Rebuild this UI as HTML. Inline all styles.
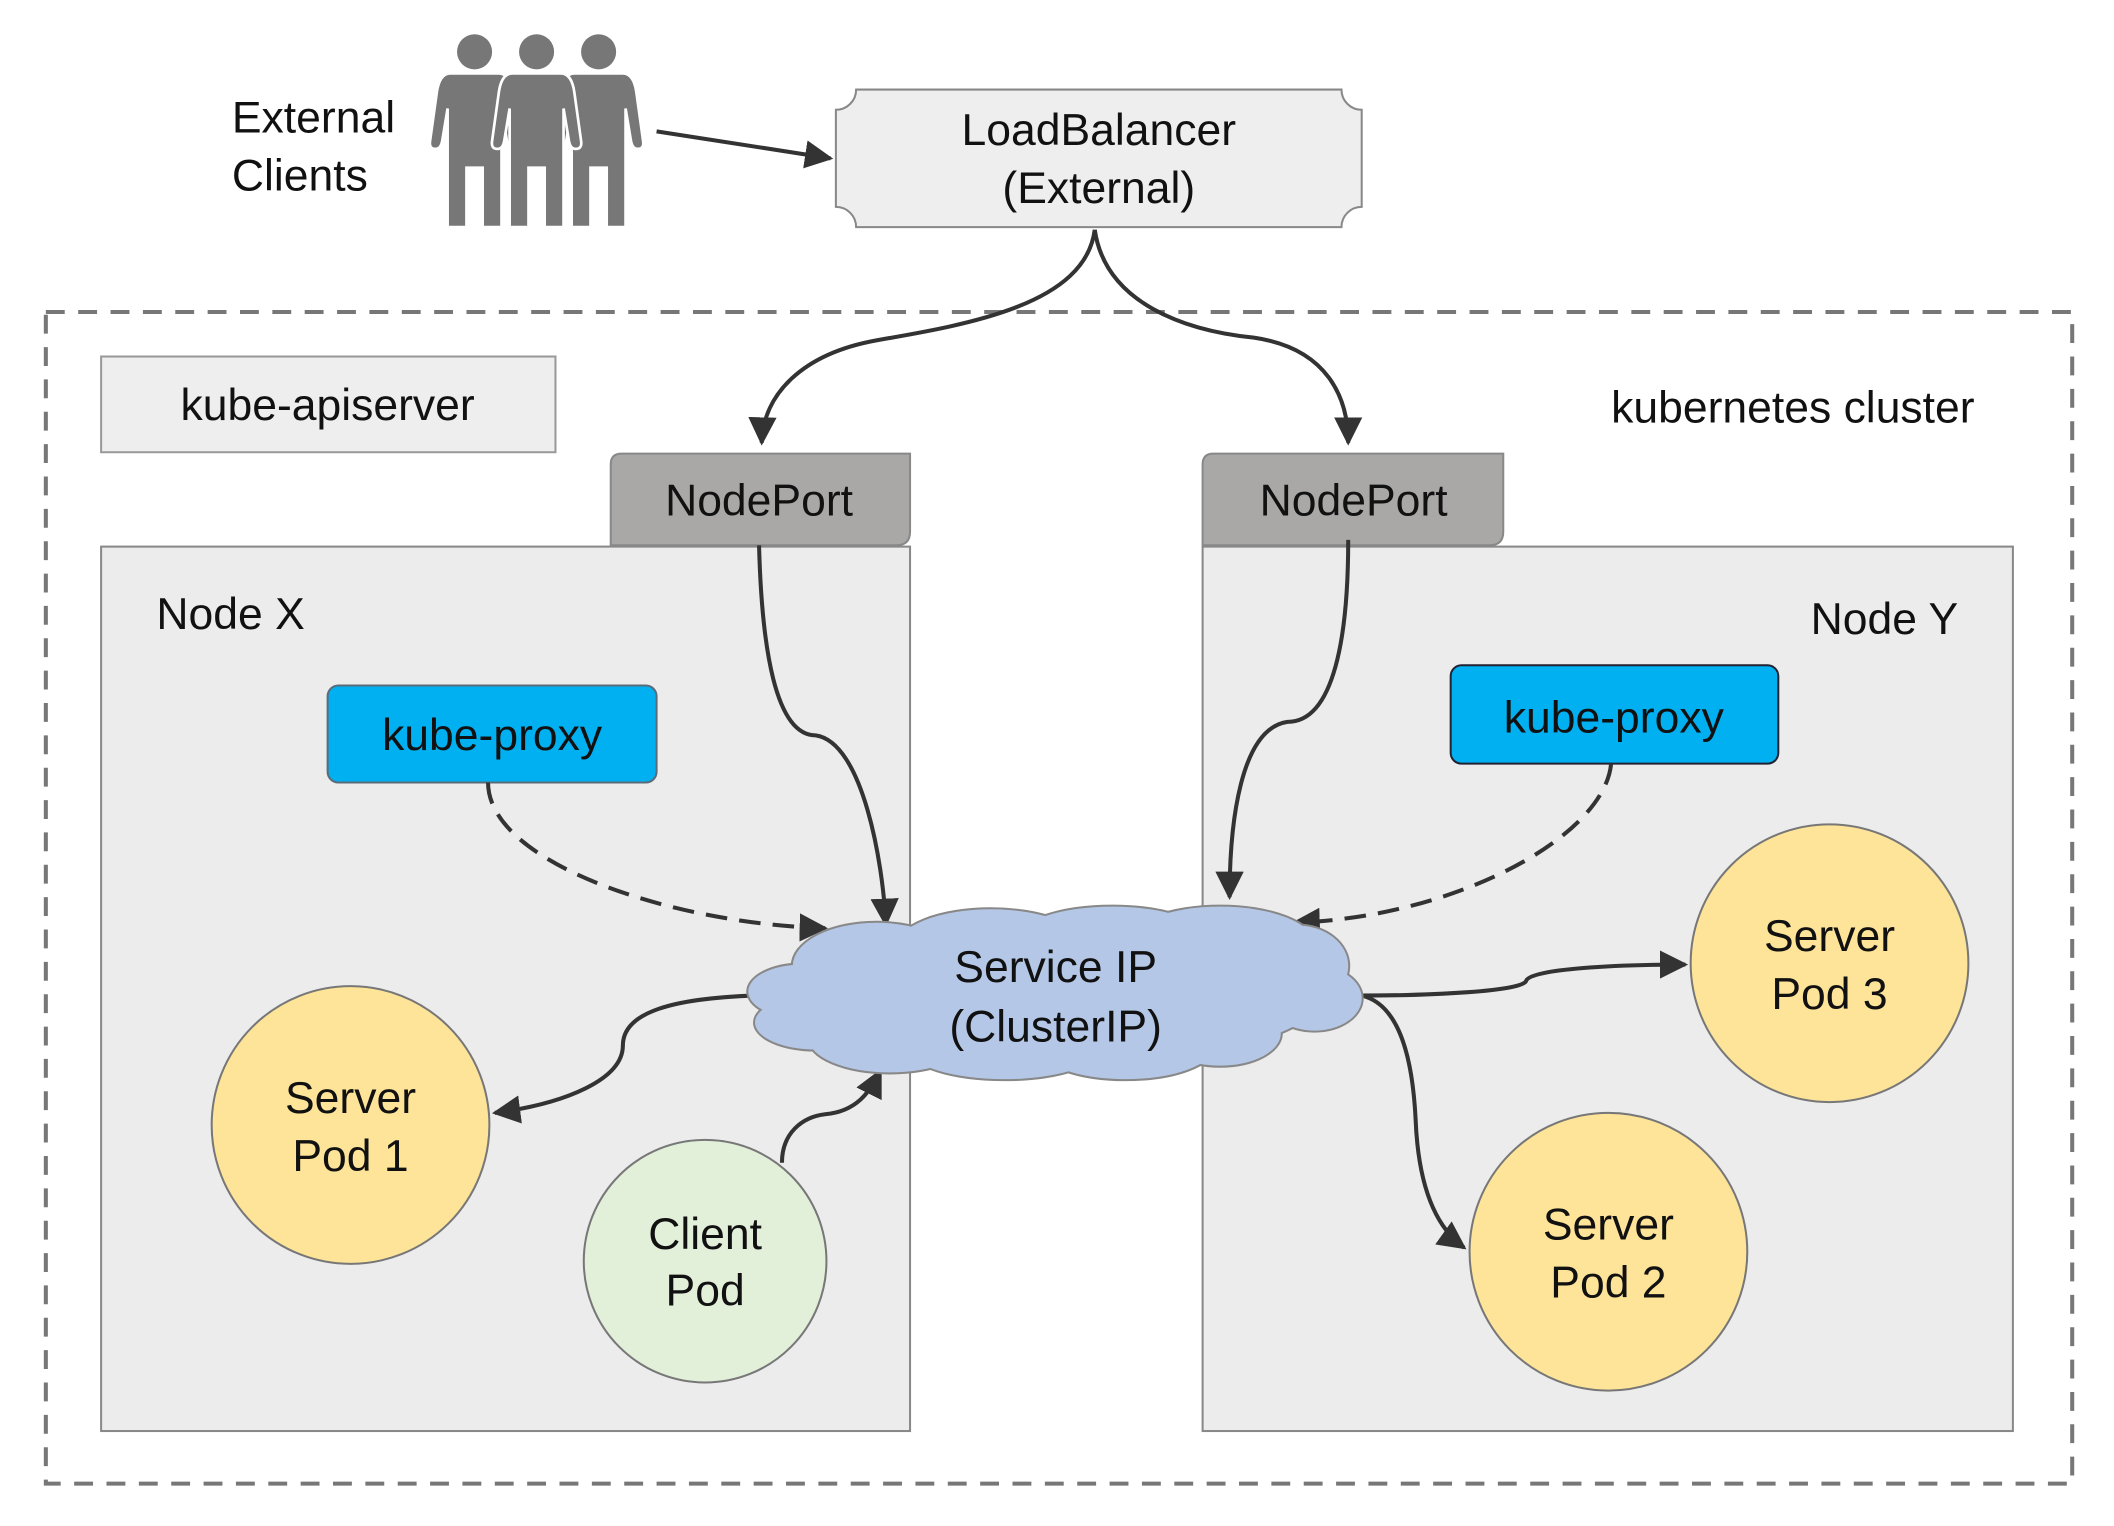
<!DOCTYPE html>
<html><head><meta charset="utf-8"><style>
html,body{margin:0;padding:0;background:#fff;}
svg{display:block;}
text{font-family:"Liberation Sans",sans-serif;fill:#111;}
</style></head><body>
<svg width="2114" height="1526" viewBox="0 0 1568 1131" xmlns="http://www.w3.org/2000/svg">
<defs>
<marker id="ar" viewBox="0 0 10 10" refX="9" refY="5" markerWidth="7" markerHeight="7" orient="auto">
<path d="M0,0 L10,5 L0,10 Z" fill="#333"/>
</marker>
<g id="man">
<circle cx="0" cy="0" r="13" fill="#777"/>
<path d="M-18,16 H18 Q26,16 28,30 L33,66 Q34,72 29,72 Q25,72 24,66 L20,42 V130 H6 V86 H-6 V130 H-20 V42 L-24,66 Q-25,72 -29,72 Q-34,72 -33,66 L-28,30 Q-26,16 -18,16 Z" fill="#777" stroke="#fff" stroke-width="2"/>
</g>
</defs>
<rect width="1568" height="1131" fill="#fff"/>

<text x="172" y="98" font-size="33">External</text>
<text x="172" y="141" font-size="33">Clients</text>
<use href="#man" x="352" y="38"/>
<use href="#man" x="444" y="38"/>
<use href="#man" x="398" y="38"/>
<path d="M487,97 L616,117" stroke="#333" stroke-width="3" fill="none" marker-end="url(#ar)"/>

<path d="M635,66 H995 A15,15 0 0 0 1010,81 V153 A15,15 0 0 0 995,168 H635 A15,15 0 0 0 620,153 V81 A15,15 0 0 0 635,66 Z" fill="#eee" stroke="#888" stroke-width="1.5"/>
<text x="815" y="107" font-size="33" text-anchor="middle">LoadBalancer</text>
<text x="815" y="150" font-size="33" text-anchor="middle">(External)</text>

<rect x="34" y="231" width="1503" height="869" fill="none" stroke="#777" stroke-width="3" stroke-dasharray="14 10"/>
<rect x="75" y="264" width="337" height="71" fill="#eee" stroke="#999" stroke-width="1.5"/>
<text x="243" y="311" font-size="33" text-anchor="middle">kube-apiserver</text>
<text x="1195" y="313" font-size="33">kubernetes cluster</text>

<rect x="75" y="405" width="600" height="656" fill="#ececec" stroke="#888" stroke-width="1.5"/>
<rect x="892" y="405" width="601" height="656" fill="#ececec" stroke="#888" stroke-width="1.5"/>
<text x="116" y="466" font-size="33">Node X</text>
<text x="1343" y="470" font-size="33">Node Y</text>

<path d="M461,336 H675 V394 Q675,404 665,404 H453 V344 Q453,336 461,336 Z" fill="#aaa7a7" stroke="#888" stroke-width="1.5"/>
<path d="M900,336 H1115 V394 Q1115,404 1105,404 H892 V344 Q892,336 900,336 Z" fill="#aaa7a7" stroke="#888" stroke-width="1.5"/>
<text x="563" y="382" font-size="33" text-anchor="middle">NodePort</text>
<text x="1004" y="382" font-size="33" text-anchor="middle">NodePort</text>

<rect x="243" y="508" width="244" height="72" rx="8" fill="#00b0f0" stroke="#5a6b7a" stroke-width="1.5"/>
<rect x="1076" y="493" width="243" height="73" rx="8" fill="#00b0f0" stroke="#223" stroke-width="1.5"/>
<text x="365" y="556" font-size="33" text-anchor="middle">kube-proxy</text>
<text x="1197" y="543" font-size="33" text-anchor="middle">kube-proxy</text>

<g stroke="#333" stroke-width="3" fill="none">
<path d="M812,170 C805,225 720,240 650,252 C595,262 566,292 565,328" marker-end="url(#ar)"/>
<path d="M812,170 C820,225 880,245 930,250 C985,258 1000,295 1000,328" marker-end="url(#ar)"/>
<path d="M563,404 C565,480 575,545 605,545 C640,550 655,640 657,685" marker-end="url(#ar)"/>
<path d="M1000,400 C1000,470 990,535 955,535 C920,540 912,610 912,665" marker-end="url(#ar)"/>
<path d="M362,580 C362,640 500,685 612,688" stroke-dasharray="16 9" marker-end="url(#ar)"/>
<path d="M1195,566 C1190,620 1080,680 960,684" stroke-dasharray="16 9" marker-end="url(#ar)"/>
<path d="M560,738 C500,740 462,750 462,775 C462,800 420,818 367,825" marker-end="url(#ar)"/>
<path d="M580,862 C580,840 595,828 612,826 C635,824 645,810 653,794" marker-end="url(#ar)"/>
<path d="M1008,738 C1060,738 1130,735 1132,727 C1135,718 1200,715 1250,715" marker-end="url(#ar)"/>
<path d="M1010,738 C1040,745 1048,790 1050,830 C1052,880 1065,910 1086,925" marker-end="url(#ar)"/>
</g>

<g stroke="#888" stroke-width="3" fill="#b4c7e7">
<ellipse cx="783" cy="735" rx="200" ry="55"/>
<ellipse cx="650" cy="716" rx="62" ry="32"/>
<ellipse cx="735" cy="702" rx="70" ry="28"/>
<ellipse cx="825" cy="696" rx="70" ry="24"/>
<ellipse cx="905" cy="700" rx="70" ry="28"/>
<ellipse cx="962" cy="716" rx="38" ry="30"/>
<ellipse cx="975" cy="740" rx="35" ry="24"/>
<ellipse cx="905" cy="766" rx="45" ry="24"/>
<ellipse cx="835" cy="776" rx="65" ry="24"/>
<ellipse cx="745" cy="778" rx="70" ry="22"/>
<ellipse cx="660" cy="770" rx="60" ry="25"/>
<ellipse cx="605" cy="758" rx="45" ry="20"/>
<ellipse cx="595" cy="735" rx="40" ry="20"/>
</g>
<g fill="#b4c7e7">
<ellipse cx="783" cy="735" rx="200" ry="55"/>
<ellipse cx="650" cy="716" rx="62" ry="32"/>
<ellipse cx="735" cy="702" rx="70" ry="28"/>
<ellipse cx="825" cy="696" rx="70" ry="24"/>
<ellipse cx="905" cy="700" rx="70" ry="28"/>
<ellipse cx="962" cy="716" rx="38" ry="30"/>
<ellipse cx="975" cy="740" rx="35" ry="24"/>
<ellipse cx="905" cy="766" rx="45" ry="24"/>
<ellipse cx="835" cy="776" rx="65" ry="24"/>
<ellipse cx="745" cy="778" rx="70" ry="22"/>
<ellipse cx="660" cy="770" rx="60" ry="25"/>
<ellipse cx="605" cy="758" rx="45" ry="20"/>
<ellipse cx="595" cy="735" rx="40" ry="20"/>
</g>
<text x="783" y="728" font-size="33" text-anchor="middle">Service IP</text>
<text x="783" y="772" font-size="33" text-anchor="middle">(ClusterIP)</text>

<g stroke="#777" stroke-width="1.5">
<circle cx="260" cy="834" r="103" fill="#fde499"/>
<circle cx="523" cy="935" r="90" fill="#e2efd9"/>
<circle cx="1357" cy="714" r="103" fill="#fde499"/>
<circle cx="1193" cy="928" r="103" fill="#fde499"/>
</g>
<g font-size="33" text-anchor="middle">
<text x="260" y="825">Server</text><text x="260" y="868">Pod 1</text>
<text x="523" y="926">Client</text><text x="523" y="968">Pod</text>
<text x="1357" y="705">Server</text><text x="1357" y="748">Pod 3</text>
<text x="1193" y="919">Server</text><text x="1193" y="962">Pod 2</text>
</g>
</svg>
</body></html>
